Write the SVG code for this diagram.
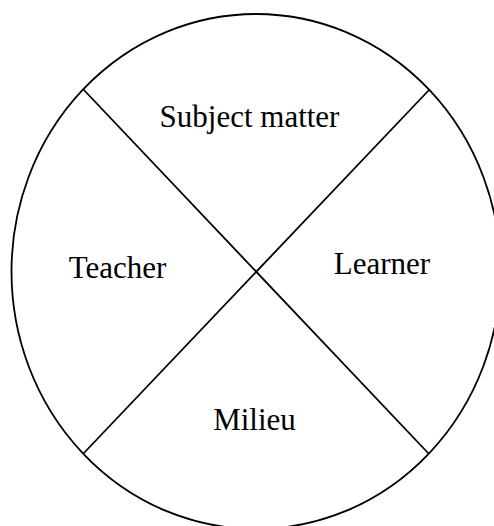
<svg xmlns="http://www.w3.org/2000/svg" width="494" height="526" viewBox="0 0 494 526">
<style>
.s{fill:none;stroke:#000;stroke-width:1.8}
.t{font-family:"Liberation Serif","Times New Roman",serif;font-size:31px;fill:#000;text-anchor:middle}
</style>
<rect width="494" height="526" fill="#fff"/>
<g id="connectors">
<ellipse class="s" cx="256" cy="271.5" rx="244.5" ry="257.5"/>
<line class="s" x1="83" y1="89" x2="429" y2="454"/>
<line class="s" x1="429" y1="90" x2="83" y2="454"/>
</g>
<g id="subject"><text class="t" x="249.5" y="127">Subject matter</text></g>
<g id="teacher"><text class="t" x="117.5" y="278">Teacher</text></g>
<g id="learner"><text class="t" x="382" y="274">Learner</text></g>
<g id="milieu"><text class="t" x="254.5" y="430">Milieu</text></g>
</svg>
